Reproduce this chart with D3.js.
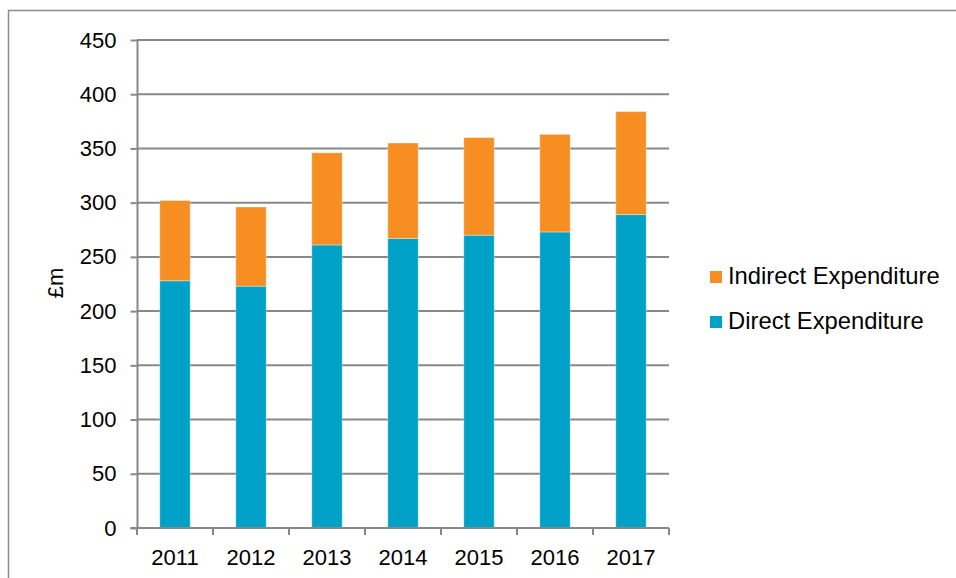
<!DOCTYPE html>
<html>
<head>
<meta charset="utf-8">
<script src="https://cdn.jsdelivr.net/npm/d3@7"></script>
<style>
    body { margin: 0; background: #fff; }
    #chart text { font-family: Arial, "Liberation Sans", sans-serif; fill: #000; }
</style>
</head>
<body>
<div id="chart"></div>
<script>
// ****************************************************************************
// ******************************* DATOS **************************************
// ****************************************************************************

const years = ["2011", "2012", "2013", "2014", "2015", "2016", "2017"];
const direct_expenditure = [228, 223, 261, 267, 270, 273, 289];
const indirect_expenditure = [74, 73, 85, 88, 90, 90, 95];
const y_ticks = [0, 50, 100, 150, 200, 250, 300, 350, 400, 450];
const series_names = ["Indirect Expenditure", "Direct Expenditure"];

// ****************************************************************************
// ******************************* GRAFICO ************************************
// ****************************************************************************

const colors = {
    direct: "#00A1C7",
    indirect: "#F68E22",
    grid: "#888888"
};

const width = 956, height = 578;
const margin = {top: 40, left: 137, right: 287, bottom: 50};
const plot_w = width - margin.left - margin.right;  // 532
const plot_h = 528 - margin.top;

const svg = d3.select("#chart")
    .append("svg")
    .attr("width", width)
    .attr("height", height);

// marco exterior, se sale por la derecha y por abajo
svg.append("rect")
    .attr("x", 8.5).attr("y", 10.5)
    .attr("width", 1000).attr("height", 1000)
    .style("fill", "none")
    .style("stroke", "#8c8c8c")
    .style("stroke-width", 1.5);

const g = svg.append("g")
    .attr("transform", "translate(" + margin.left + "," + margin.top + ")");

const x = d3.scaleBand().domain(years).range([0, plot_w])
    .paddingInner(0.6).paddingOuter(0.3);
const y = d3.scaleLinear().domain([0, 450]).range([plot_h, 0]);

// lineas de rejilla
g.append("g")
    .selectAll("line")
    .data(y_ticks.filter(d => d > 0))
    .enter()
    .append("line")
    .attr("x1", 0).attr("x2", plot_w)
    .attr("y1", d => y(d)).attr("y2", d => y(d))
    .style("stroke", colors.grid)
    .style("stroke-width", 2);

// apilado: directo abajo, indirecto arriba
const rows = years.map((yr, i) => ({
    year: yr, direct: direct_expenditure[i], indirect: indirect_expenditure[i]
}));
const stack = d3.stack().keys(["direct", "indirect"])(rows);

g.selectAll("g.serie")
    .data(stack)
    .enter()
    .append("g")
    .attr("class", "serie")
    .style("fill", d => colors[d.key])
    .selectAll("rect")
    .data(d => d)
    .enter()
    .append("rect")
    .attr("x", d => x(d.data.year))
    .attr("width", x.bandwidth())
    .attr("y", d => y(d[1]))
    .attr("height", d => y(d[0]) - y(d[1]))
    .style("stroke", "#fff")
    .style("stroke-opacity", 0.35)
    .style("stroke-width", 1);

// eje Y
const y_axis = g.append("g")
    .call(d3.axisLeft(y).tickValues(y_ticks).tickSize(6.5).tickSizeOuter(0).tickPadding(14));
y_axis.selectAll("line, path").style("stroke", colors.grid).style("stroke-width", 2);
y_axis.selectAll("text").style("font-size", "22px");

// eje X (marcas entre categorias)
const x_axis = g.append("g").attr("transform", "translate(0," + plot_h + ")");
x_axis.append("line")
    .attr("x1", -6.5).attr("x2", plot_w)
    .style("stroke", colors.grid).style("stroke-width", 2);
x_axis.selectAll("line.tick")
    .data(years.concat(["end"]))
    .enter()
    .append("line")
    .attr("class", "tick")
    .attr("x1", (d, i) => i * x.step()).attr("x2", (d, i) => i * x.step())
    .attr("y1", 0).attr("y2", 7)
    .style("stroke", colors.grid).style("stroke-width", 2);
x_axis.selectAll("text")
    .data(years)
    .enter()
    .append("text")
    .attr("x", d => x(d) + x.bandwidth() / 2)
    .attr("y", 37)
    .style("text-anchor", "middle")
    .style("font-size", "22px")
    .text(d => d);

// titulo eje Y
svg.append("text")
    .attr("transform", "translate(63,283) rotate(-90)")
    .style("text-anchor", "middle")
    .style("font-size", "22px")
    .text("£m");

// leyenda
const legend = svg.append("g").attr("transform", "translate(710,271)");
const legend_colors = [colors.indirect, colors.direct];
series_names.forEach(function(name, i){
    legend.append("rect")
        .attr("x", 0).attr("y", i * 45)
        .attr("width", 12).attr("height", 12)
        .style("fill", legend_colors[i]);
    legend.append("text")
        .attr("x", 18).attr("y", i * 45 + 13)
        .style("font-size", "23.8px")
        .text(name);
});
</script>
</body>
</html>
